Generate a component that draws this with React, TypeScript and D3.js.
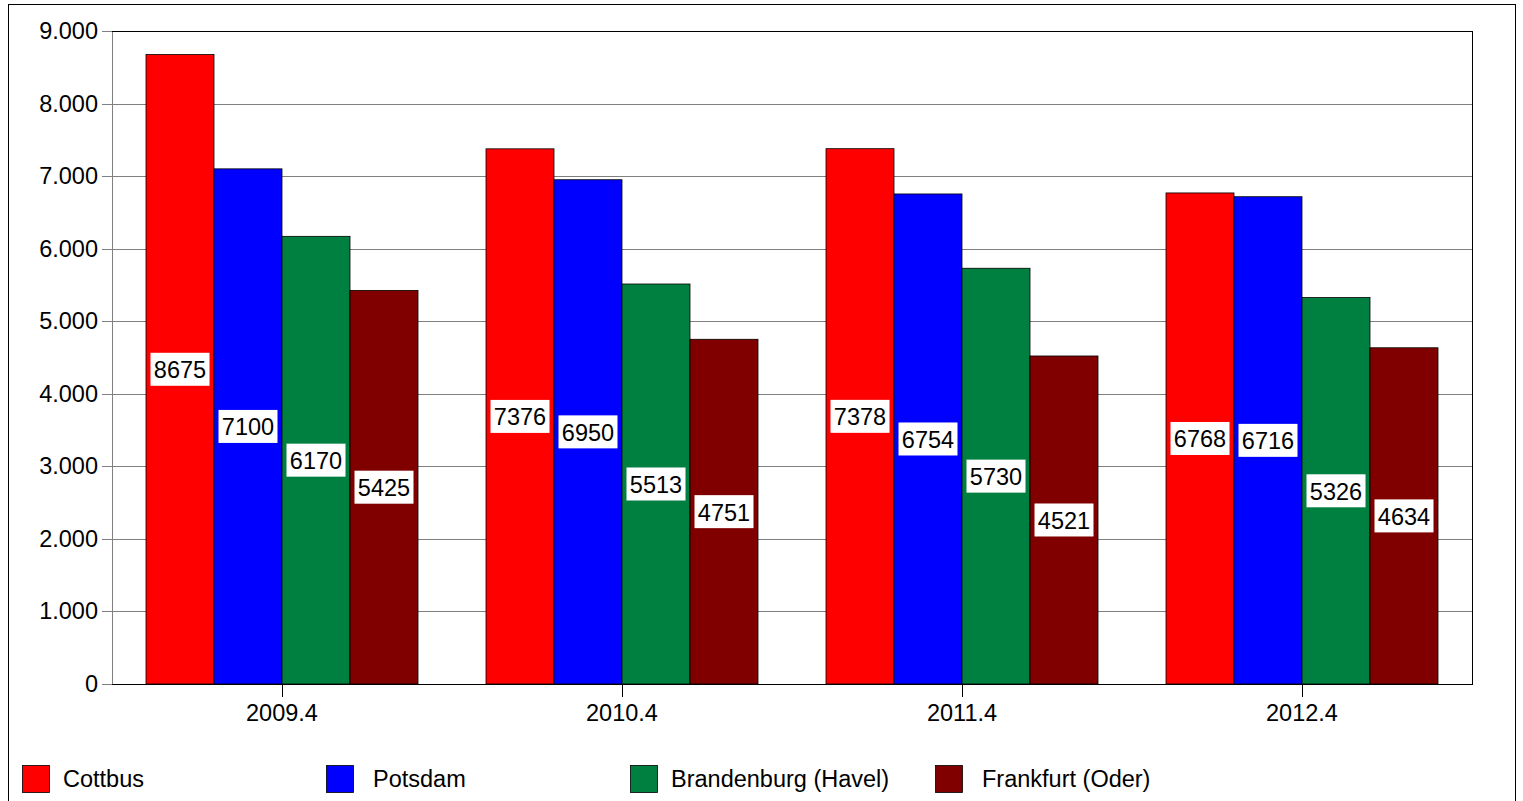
import React from "react";
import * as d3 from "d3";

const categories = ["2009.4", "2010.4", "2011.4", "2012.4"];
const seriesNames = ["Cottbus", "Potsdam", "Brandenburg (Havel)", "Frankfurt (Oder)"];
const cottbus = [8675, 7376, 7378, 6768];
const potsdam = [7100, 6950, 6754, 6716];
const brandenburg = [6170, 5513, 5730, 5326];
const frankfurt = [5425, 4751, 4521, 4634];
const yTicks = [0, 1000, 2000, 3000, 4000, 5000, 6000, 7000, 8000, 9000];
const colors = ["#ff0000", "#0000ff", "#008040", "#800000"];

const seriesValues = [cottbus, potsdam, brandenburg, frankfurt];

export default function App() {
  const W = 1523, H = 801;
  const left = 112, right = 1472, top = 31, bottom = 684;
  const x0 = d3.scaleBand<string>().domain(categories).range([left, right]).paddingInner(0.2).paddingOuter(0.1);
  const x1 = d3.scaleBand<string>().domain(seriesNames).range([0, x0.bandwidth()]);
  const y = d3.scaleLinear().domain([0, 9000]).range([bottom, top]);
  const fmt = (v: number) => (v === 0 ? "0" : d3.format(",")(v).replace(/,/g, "."));
  const font = "Liberation Sans, Arial, sans-serif";
  const ctr = (c: string) => left + (categories.indexOf(c) + 0.5) * ((right - left) / categories.length);
  const legendX = [22, 326, 630, 935];
  const fs = 23.5;

  return (
    <svg width={W} height={H} style={{ position: "absolute", left: 0, top: 0 }} fontFamily={font}>
      <rect x={0} y={0} width={W} height={H} fill="#fff" />
      <rect x={8.5} y={4.5} width={1507} height={820} fill="none" stroke="#000" />
      {yTicks.map((t) => (
        <g key={t}>
          <line x1={102} x2={right} y1={Math.round(y(t)) + 0.5} y2={Math.round(y(t)) + 0.5} stroke="#808080" strokeWidth={1} />
          <text x={98} y={y(t)} textAnchor="end" dominantBaseline="central" fontSize={fs} fill="#000">{fmt(t)}</text>
        </g>
      ))}
      <line x1={left + 0.5} x2={left + 0.5} y1={top} y2={bottom} stroke="#808080" />
      <line x1={left} x2={right} y1={top + 0.5} y2={top + 0.5} stroke="#000" />
      <line x1={right + 0.5} x2={right + 0.5} y1={top} y2={bottom} stroke="#000" />
      {categories.map((c, ci) => (
        <g key={c} transform={`translate(${x0(c)},0)`}>
          {seriesNames.map((s, si) => {
            const v = seriesValues[si][ci];
            const bx = x1(s)!;
            const bw = x1.bandwidth();
            return (
              <rect key={s} x={bx} y={y(v)} width={bw} height={bottom - y(v)} fill={colors[si]} stroke="#000" strokeWidth={0.8} />
            );
          })}
        </g>
      ))}
      <line x1={left} x2={right + 1} y1={bottom + 0.5} y2={bottom + 0.5} stroke="#000" />
      {categories.map((c) => (
        <g key={c}>
          <line x1={ctr(c) + 0.5} x2={ctr(c) + 0.5} y1={bottom} y2={bottom + 13} stroke="#000" />
          <text x={ctr(c)} y={721} textAnchor="middle" fontSize={fs} fill="#000">{c}</text>
        </g>
      ))}
      {categories.map((c, ci) => (
        <g key={c} transform={`translate(${x0(c)},0)`}>
          {seriesNames.map((s, si) => {
            const v = seriesValues[si][ci];
            const cx = x1(s)! + x1.bandwidth() / 2;
            const cy = (y(v) + bottom) / 2;
            return (
              <g key={s}>
                <rect x={cx - 29.5} y={cy - 16.5} width={59} height={33} fill="#fff" />
                <text x={cx} y={cy + 1} textAnchor="middle" dominantBaseline="central" fontSize={fs} fill="#000">{v}</text>
              </g>
            );
          })}
        </g>
      ))}
      {seriesNames.map((s, i) => (
        <g key={s}>
          <rect x={legendX[i] + 0.5} y={765.5} width={27} height={27} fill={colors[i]} stroke="#000" strokeWidth={0.8} />
          <text x={legendX[i] + (i % 2 === 1 ? 47 : 41)} y={779} dominantBaseline="central" fontSize={fs} fill="#000">{s}</text>
        </g>
      ))}
    </svg>
  );
}
